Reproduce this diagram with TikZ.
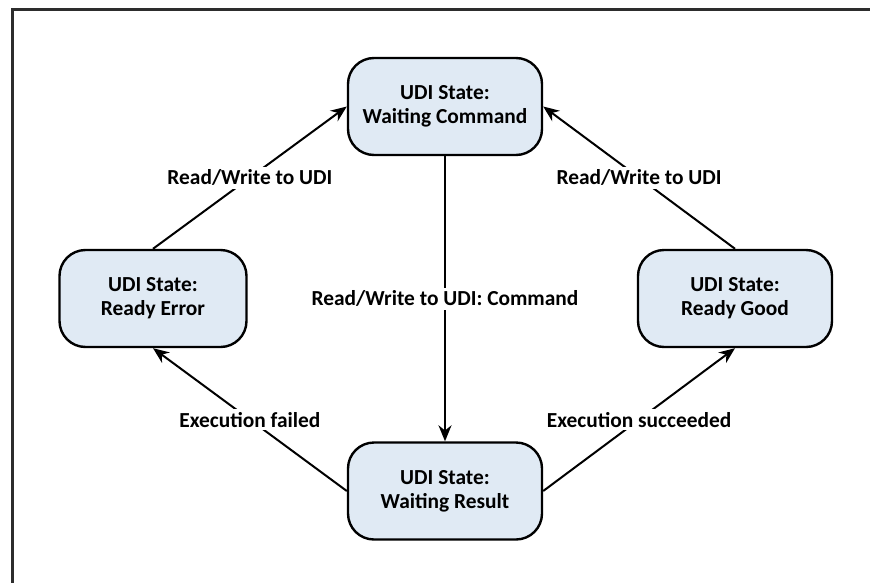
\documentclass[tikz,border=0pt]{standalone}
\usepackage{fontspec}
\setmainfont{Carlito}
\usetikzlibrary{positioning,arrows.meta}
\definecolor{stateblue}{RGB}{224,234,244}
\definecolor{framegray}{RGB}{45,45,45}
\tikzset{
  state/.style={draw, line width=1.2pt, rounded corners=13pt, fill=stateblue,
    minimum width=97pt, minimum height=48.5pt, align=center,
    font=\bfseries\fontsize{10.7}{12}\selectfont},
  trans/.style={line width=1pt, -{Stealth[length=8pt,width=6.5pt]}},
  lbl/.style={fill=white, inner sep=1.5pt, font=\bfseries\fontsize{10.7}{12}\selectfont}
}
\begin{document}
\begin{tikzpicture}[on grid]
  \useasboundingbox (0,0) rectangle (435pt,-291.5pt);
  \draw[framegray, line width=1.5pt] (435pt,-5pt) -- (6pt,-5pt) -- (6pt,-291.5pt);

  \node[state] (res) at (222.5pt,-245.5pt) {UDI State:\\Waiting Result};
  \node[state] (cmd)  [above=192.25pt of res]                {UDI State:\\Waiting Command};
  \node[state, minimum width=93.5pt] (err) [above left=96.25pt and 146pt of res]  {UDI State:\\Ready Error};
  \node[state] (good) [above right=96.25pt and 145pt of res] {UDI State:\\Ready Good};

  \draw[trans] (err.north)  -- node[lbl] (rwl) {Read/Write to UDI} (cmd.west);
  \draw[trans] (good.north) -- node[lbl] (rwr) {Read/Write to UDI} (cmd.east);
  \draw[trans] (cmd.south)  -- node[lbl] (rwc) {Read/Write to UDI: Command} (res.north);
  \draw[trans] (res.west)   -- node[lbl] (fail) {Execution failed} (err.south);
  \draw[trans] (res.east)   -- node[lbl] (succ) {Execution succeeded} (good.south);
\end{tikzpicture}
\end{document}
